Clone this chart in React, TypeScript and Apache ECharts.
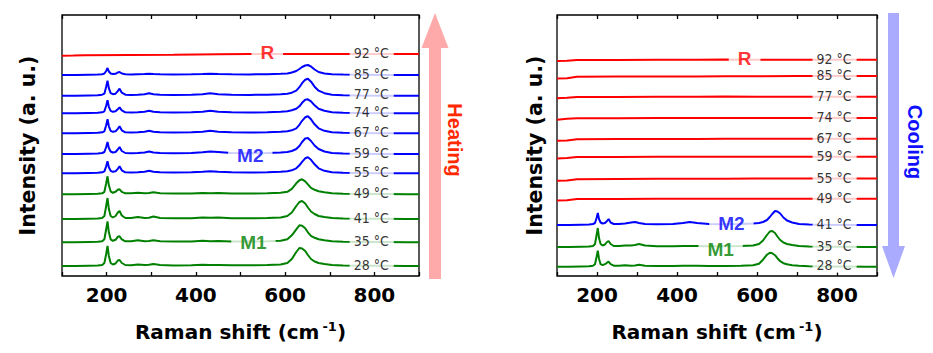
import React, { useEffect, useRef } from "react";
import * as echarts from "echarts";

// Raman shift sample positions (cm-1) for spectra with peaks
const xs = [100, 130, 160, 180, 190, 195, 199, 202, 205, 209, 214, 220, 225, 229, 234, 242, 255, 270, 285, 295, 305, 320, 350, 390, 415, 432, 450, 480, 520, 560, 590, 605, 615, 625, 632, 638, 645, 651, 658, 666, 675, 688, 705, 730, 770, 820, 870, 900];
// sample positions for the flat rutile (R) spectra
const redXs = [100, 125, 150, 250, 350, 450, 520, 600, 700, 760, 830, 900];

// Heating (left panel), intensities relative to each trace's baseline
const heatTemps = [28, 35, 41, 49, 55, 59, 67, 74, 77, 85, 92];
const heatOffsets = [10, 33.7, 57, 81.7, 102.7, 122, 142.7, 162.7, 180.3, 201, 222];
const heatPhases = ["M1", "M1", "M1", "M1", "M2", "M2", "M2", "M2", "M2", "M2", "R"];
const h28 = [0, 0, 0.3, 0.5, 1, 3, 12, 20, 10, 3, 1.5, 2.5, 5.5, 6, 3, 1, 0.8, 1.5, 1, 1.2, 2, 1, 0.6, 0.8, 1.2, 1, 1, 0.8, 0.8, 1, 1.5, 3, 7, 14, 18, 17.5, 15, 11, 7, 4.5, 3, 2, 1, 0.5, 0.3, 0.2, 0, 0];
const h35 = [0, 0, 0.3, 0.5, 1, 3, 13, 21, 10, 3, 1.5, 2.5, 5.5, 6, 3, 1, 1, 2, 1, 1.2, 2, 1, 0.7, 0.8, 1.5, 1, 1.2, 0.8, 0.8, 1, 1.5, 3, 7, 13, 17, 16.5, 14, 10, 6.5, 4.5, 3, 2, 1, 0.5, 0.3, 0.2, 0, 0];
const h41 = [0, 0, 0.3, 0.5, 1, 3, 13, 21, 10, 3, 1.5, 3, 6.5, 8, 3.5, 1, 1, 2, 1, 1.2, 2.5, 1, 0.7, 0.8, 1.5, 1.2, 1.5, 0.8, 0.8, 1, 1.5, 3, 6.5, 13, 17, 18, 15.5, 11.5, 7.5, 5, 3, 2, 1, 0.5, 0.3, 0.2, 0, 0];
const h49 = [0, 0, 0.3, 0.5, 1, 2.5, 11, 18, 9, 3, 1.5, 2.5, 4.5, 5, 2.5, 1, 1, 1.5, 1, 1.2, 2, 1, 0.7, 0.8, 1.2, 1, 1.2, 0.8, 0.8, 1, 1.5, 2.5, 5.5, 11, 14, 15, 13, 10, 6.5, 4.5, 3, 2, 1, 0.5, 0.3, 0.2, 0, 0];
const h55 = [0, 0, 0.3, 0.5, 1, 2, 7, 12, 6, 2.5, 1.5, 2, 4.5, 7, 3, 1, 0.8, 1, 1.5, 2.5, 1.5, 1, 0.8, 1, 1.5, 2, 1.5, 1, 0.8, 1, 1.5, 2, 3, 5, 8, 11.5, 15, 16, 13.5, 9, 5, 2.5, 1, 0.5, 0.2, 0, 0, 0];
const h59 = [0, 0, 0.3, 0.5, 1, 2, 7, 12, 6, 2.5, 1.5, 2, 4.5, 7, 3, 1, 0.8, 1, 1.5, 2.5, 1.5, 1, 0.8, 1, 1.8, 2.5, 2, 1, 0.8, 1, 1.5, 2, 3, 5, 8, 12, 15.5, 16, 13, 8.5, 5, 2.5, 1, 0.5, 0.2, 0, 0, 0];
const h67 = [0, 0, 0.3, 0.5, 1, 2, 8, 14, 7, 2.5, 1.5, 2, 4.5, 7, 3, 1, 0.8, 1, 1.5, 2.5, 1.5, 1, 0.8, 1, 1.5, 2.5, 1.5, 1, 0.8, 1, 1.5, 2, 3, 5, 8.5, 12.5, 16, 17, 14, 9, 5, 2.5, 1, 0.5, 0.2, 0, 0, 0];
const h74 = [0, 0, 0.3, 0.5, 1, 2, 7.5, 13, 6.5, 2.5, 1.5, 2, 4, 6, 3, 1, 0.8, 1, 1.5, 2.5, 1.5, 1, 0.8, 1, 1.5, 2.5, 1.5, 1, 0.8, 1, 1.5, 2, 3, 4.5, 7, 10.5, 13.5, 14, 12, 8, 4.5, 2.5, 1, 0.5, 0.2, 0, 0, 0];
const h77 = [0, 0, 0.3, 0.5, 1, 2, 9, 15, 7.5, 2.5, 1.5, 2, 4.5, 7, 3, 1, 0.8, 1, 1.5, 2.5, 1.5, 1, 0.8, 1, 1.5, 2.5, 1.5, 1, 0.8, 1, 1.5, 2, 3, 5, 8.5, 12.5, 16, 17, 14, 9, 5, 2.5, 1, 0.5, 0.2, 0, 0, 0];
const h85 = [0, 0, 0.3, 0.5, 0.8, 1.5, 4, 7, 3.5, 1.5, 1, 1.2, 2.5, 3, 1.5, 0.8, 0.6, 0.8, 1, 1.2, 1, 0.8, 0.6, 0.8, 1, 1.2, 1, 0.8, 0.6, 0.8, 1.2, 1.5, 2.5, 4, 6, 8, 9.5, 10, 8.5, 5.5, 3, 1.5, 0.8, 0.4, 0.2, 0, 0, 0];
const h92 = [-1.7, -1.5, -1.2, -1, -0.7, -0.3, 0, 0, 0, 0, 0, 0];
const heatValues = [h28, h35, h41, h49, h55, h59, h67, h74, h77, h85, h92];

// Cooling (right panel)
const coolTemps = [28, 35, 41, 49, 55, 59, 67, 74, 77, 85, 92];
const coolOffsets = [9.3, 29, 51, 77, 97, 119, 136.7, 157.7, 179, 199.3, 216];
const coolPhases = ["M1", "M1", "M2", "R", "R", "R", "R", "R", "R", "R", "R"];
const c28 = [0, 0, 0.3, 0.5, 1, 2.5, 10, 16, 8, 2.5, 1.5, 2.5, 4, 5, 2.5, 1, 1, 1.5, 1, 1.2, 2, 1, 0.6, 0.8, 1, 1, 1, 0.8, 0.8, 1, 1.5, 3, 7, 12, 14, 13.5, 11.5, 8.5, 5.5, 3.5, 2.5, 1.5, 1, 0.5, 0.3, 0.2, 0, 0];
const c35 = [0, 0, 0.3, 0.5, 1, 3, 12, 19, 9, 3, 1.5, 2.5, 5, 6, 3, 1, 1, 1.5, 1.5, 2, 3, 1.5, 0.8, 0.8, 1, 1, 1, 0.8, 0.8, 1, 1.5, 3, 6.5, 12, 15.5, 16, 14, 10.5, 7, 4.5, 3, 2, 1, 0.5, 0.3, 0.2, 0, 0];
const c41 = [0, 0, 0.3, 0.5, 1, 2, 7, 12, 6, 2.5, 1.5, 2, 4, 6, 2.5, 1, 1, 1.5, 2.5, 3, 2, 1, 0.8, 1, 2, 3, 2, 1, 0.8, 1, 1.5, 2, 3, 5, 8, 11, 14, 13.5, 11.5, 7.5, 4.5, 2.5, 1, 0.5, 0.2, 0, 0, 0];
const c49 = [-1.5, -1.2, 0, 0, 0.2, 0.3, 0.3, 0.3, 0.3, 0.3, 0.3, 0.3];
const c55 = [-1.7, -1.4, -0.3, 0, 0.2, 0.3, 0.3, 0.5, 0.5, 0.5, 0.5, 0.5];
const c59 = [-1.5, -1, 0, 0, 0.2, 0.3, 0.3, 0.3, 0.3, 0.3, 0.3, 0.3];
const c67 = [-1.5, -1.2, 0, 0.2, 0.3, 0.3, 0.5, 0.5, 0.5, 0.5, 0.5, 0.5];
const c74 = [-1.5, -0.5, 0, 0, 0.2, 0.2, 0.3, 0.3, 0.3, 0.3, 0.3, 0.3];
const c77 = [-1.3, -0.8, 0, 0, 0.2, 0.2, 0.5, 0.3, 0.3, 0.3, 0.3, 0.3];
const c85 = [-1.8, -1.5, 0, 0.2, 0.3, 0.3, 0.5, 0.5, 0.6, 0.6, 0.6, 0.6];
const c92 = [-1, -0.8, 0, 0, 0.2, 0.3, 0.5, 0.3, 0.3, 0.3, 0.3, 0.3];
const coolValues = [c28, c35, c41, c49, c55, c59, c67, c74, c77, c85, c92];

// Phase annotations: [panel, phase, x position (cm-1), y value]
const phaseLabels: [number, string, number, number][] = [
  [0, "R", 560, 223.3],
  [0, "M2", 522, 121],
  [0, "M1", 529, 34],
  [1, "R", 569, 217.7],
  [1, "M2", 536, 52.7],
  [1, "M1", 509, 27],
];
const tempLabelX = 794;

const phaseColor: Record<string, string> = { R: "#ff0000", M2: "#0000ff", M1: "#008000" };

const AXIS_FONT = '"DejaVu Sans", "Liberation Sans", Arial, sans-serif';
const LABEL_FONT = '"Liberation Sans", Arial, sans-serif';
const TEMP_FONT = '"DejaVu Sans Condensed", "Liberation Sans Narrow", "Arial Narrow", sans-serif';

export default function App() {
  const ref = useRef<HTMLDivElement>(null);
  useEffect(() => {
    document.body.style.margin = "0";
    if (!ref.current) return;
    const chart = echarts.init(ref.current, undefined, { renderer: "svg" });

    const xAxisBase = (gridIndex: number, bottom: boolean) => ({
      gridIndex,
      type: "value",
      min: 100,
      max: 900,
      interval: 100,
      position: bottom ? "bottom" : "top",
      axisLine: { show: false },
      axisTick: { show: true, inside: true, length: 4, lineStyle: { color: "#000", width: 1.3 } },
      splitLine: { show: false },
      axisLabel: bottom
        ? {
            show: true,
            formatter: (v: number) => (v % 200 === 0 && v > 100 && v < 900 ? String(v) : ""),
            fontFamily: AXIS_FONT,
            fontWeight: "bold",
            fontSize: 20,
            color: "#000",
            margin: 9,
          }
        : { show: false },
      ...(bottom
        ? {
            name: "Raman shift (cm{sup|-1})",
            nameLocation: "middle",
            nameGap: 44,
            nameTextStyle: {
              fontFamily: AXIS_FONT,
              fontWeight: "bold",
              fontSize: 20,
              color: "#000",
              rich: {
                sup: { fontFamily: AXIS_FONT, fontWeight: "bold", fontSize: 13, color: "#000", verticalAlign: "top", padding: [0, 0, 10, 3] },
              },
            },
          }
        : {}),
    });

    const yAxisBase = (gridIndex: number, gap: number) => ({
      gridIndex,
      type: "value",
      min: 0,
      max: 261,
      axisLine: { show: false },
      axisTick: { show: false },
      axisLabel: { show: false },
      splitLine: { show: false },
      name: "Intensity (a. u.)",
      nameLocation: "middle",
      nameRotate: 90,
      nameGap: gap,
      nameTextStyle: { fontFamily: AXIS_FONT, fontWeight: "bold", fontSize: 20.5, color: "#000" },
    });

    const series: any[] = [];
    const addPanel = (
      panel: number,
      temps: number[],
      offsets: number[],
      phases: string[],
      values: number[][]
    ) => {
      const xIdx = panel * 2;
      temps.forEach((t, k) => {
        const vals = values[k];
        const px = vals.length === redXs.length ? redXs : xs;
        series.push({
          type: "line",
          name: `${t}`,
          xAxisIndex: xIdx,
          yAxisIndex: panel,
          data: px.map((x, i) => [x, offsets[k] + vals[i]]),
          showSymbol: false,
          symbol: "none",
          silent: true,
          z: 2,
          lineStyle: { color: phaseColor[phases[k]], width: 2 },
        });
      });
      series.push({
        type: "scatter",
        xAxisIndex: xIdx,
        yAxisIndex: panel,
        symbolSize: 0,
        silent: true,
        z: 10,
        data: temps.map((t, k) => ({
          value: [tempLabelX, offsets[k] + 1.5],
          label: {
            show: true,
            position: "inside",
            formatter: `${t} °C`,
            color: "#000",
            fontFamily: TEMP_FONT,
            fontSize: 14,
            backgroundColor: "#fff",
            padding: [1, 5, 0, 4],
          },
        })),
      });
      series.push({
        type: "scatter",
        xAxisIndex: xIdx,
        yAxisIndex: panel,
        symbolSize: 0,
        silent: true,
        z: 10,
        data: phaseLabels
          .filter((p) => p[0] === panel)
          .map((p) => ({
            value: [p[2], p[3]],
            label: {
              show: true,
              position: "inside",
              formatter: p[1],
              color: phaseColor[p[1]],
              fontFamily: LABEL_FONT,
              fontWeight: "bold",
              fontSize: 19,
              backgroundColor: "#fff",
              padding: [0, 9],
            },
          })),
      });
    };
    addPanel(0, heatTemps, heatOffsets, heatPhases, heatValues);
    addPanel(1, coolTemps, coolOffsets, coolPhases, coolValues);

    chart.setOption({
      animation: false,
      backgroundColor: "#fff",
      grid: [
        { left: 62, right: 514, top: 15, bottom: 77, show: true, borderColor: "#000", borderWidth: 1.3, backgroundColor: "transparent" },
        { left: 557, right: 56, top: 15, bottom: 77, show: true, borderColor: "#000", borderWidth: 1.3, backgroundColor: "transparent" },
      ],
      xAxis: [xAxisBase(0, true), xAxisBase(0, false), xAxisBase(1, true), xAxisBase(1, false)],
      yAxis: [yAxisBase(0, 24), yAxisBase(1, 12)],
      series,
      graphic: [
        {
          type: "polygon",
          silent: true,
          shape: { points: [[429, 279], [441, 279], [441, 48], [448.5, 48], [435, 13], [421.5, 48], [429, 48]] },
          style: { fill: "#ffaaaa" },
        },
        {
          type: "text",
          x: 455,
          y: 140,
          rotation: -Math.PI / 2,
          silent: true,
          style: { text: "Heating", fill: "#ff2a00", font: 'bold 20px "Liberation Sans", Arial, sans-serif', align: "center", verticalAlign: "middle" },
        },
        {
          type: "polygon",
          silent: true,
          shape: { points: [[888, 13], [899, 13], [899, 246], [905, 246], [893.5, 278], [882, 246], [888, 246]] },
          style: { fill: "#aaaaff" },
        },
        {
          type: "text",
          x: 915,
          y: 142,
          rotation: -Math.PI / 2,
          silent: true,
          style: { text: "Cooling", fill: "#1010ff", font: 'bold 20px "Liberation Sans", Arial, sans-serif', align: "center", verticalAlign: "middle" },
        },
      ],
    });
    return () => chart.dispose();
  }, []);
  return <div ref={ref} style={{ width: 933, height: 353 }} />;
}
